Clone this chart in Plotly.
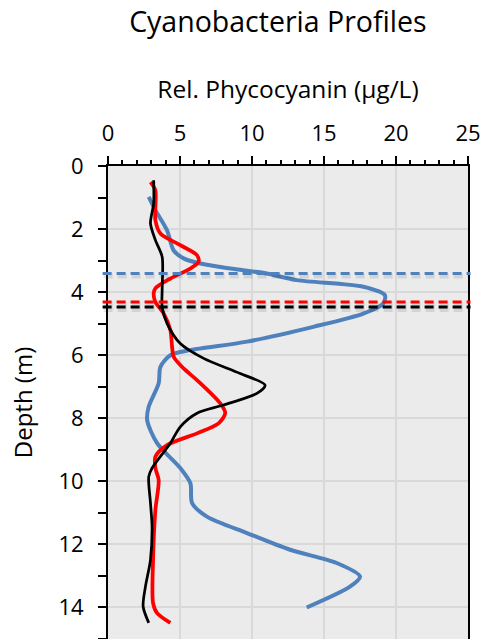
import plotly.graph_objects as go

# Blue profile (Rel. Phycocyanin µg/L vs depth m)
blue_pc = [2.83, 3.29, 4.10, 4.56, 5.25, 6.41, 8.49, 11.03, 13.11, 17.73, 19.23, 19.11, 17.73,
           14.26, 9.65, 5.72, 4.33, 3.64, 3.52, 2.83, 2.72, 3.41, 5.02, 5.72, 5.84, 6.87, 9.65,
           12.65, 15.88, 17.50, 16.80, 13.80]
blue_depth = [0.98, 1.40, 2.04, 2.68, 2.93, 3.09, 3.25, 3.41, 3.62, 3.83, 4.10, 4.36, 4.68,
              5.10, 5.57, 5.84, 6.00, 6.37, 6.89, 7.63, 8.06, 8.79, 9.58, 10.06, 10.69, 11.12, 11.64,
              12.17, 12.59, 13.02, 13.34, 14.00]

red_pc = [2.95, 3.29, 3.29, 3.64, 5.02, 6.18, 6.29, 5.72, 4.33, 3.29, 3.17, 3.29, 3.87, 4.33,
          4.45, 4.56, 5.25, 6.18, 7.80, 8.14, 7.68, 6.18, 4.10, 3.29, 3.29, 3.52, 3.29, 3.13,
          3.13, 3.41, 4.33]
red_depth = [0.51, 0.77, 1.72, 2.14, 2.51, 2.83, 3.04, 3.25, 3.57, 3.88, 4.04, 4.31, 4.68, 5.20,
             5.73, 6.05, 6.42, 6.79, 7.53, 7.84, 8.16, 8.48, 8.85, 9.22, 9.58, 9.96, 10.91, 12.49,
             13.86, 14.18, 14.49]

black_pc = [3.17, 3.17, 2.95, 3.29, 3.76, 3.76, 3.76, 4.10, 5.02, 6.64, 9.18, 10.91, 10.34, 8.02,
            6.18, 5.02, 4.33, 3.06, 2.83, 2.95, 3.06, 2.95, 2.60, 2.44, 2.83]
black_depth = [0.45, 1.19, 1.82, 2.35, 2.88, 3.94, 4.47, 4.99, 5.63, 6.10, 6.58, 6.95, 7.21, 7.58,
               7.84, 8.27, 8.79, 9.58, 9.85, 10.69, 11.43, 12.49, 13.34, 13.97, 14.49]

# Reference depths (dashed lines)
ref_depths = [3.41, 4.31, 4.47]
ref_colors = ["#4F81BD", "#FF0000", "#000000"]

x_ticks = [0, 5, 10, 15, 20, 25]
y_ticks = [0, 2, 4, 6, 8, 10, 12, 14]

FONT = "Open Sans"

fig = go.Figure()
fig.add_trace(go.Scatter(x=blue_pc, y=blue_depth, mode="lines",
                         line=dict(color="#4F81BD", width=4, shape="spline", smoothing=0.8)))
fig.add_trace(go.Scatter(x=red_pc, y=red_depth, mode="lines",
                         line=dict(color="#FF0000", width=3.75, shape="spline", smoothing=0.8)))
fig.add_trace(go.Scatter(x=black_pc, y=black_depth, mode="lines",
                         line=dict(color="#000000", width=2.75, shape="spline", smoothing=0.8)))

# soft shadows under the dashed reference lines
for d in ref_depths:
    fig.add_shape(type="line", xref="paper", yref="y", x0=-0.012, x1=1.007, y0=d + 0.08, y1=d + 0.08,
                  line=dict(color="rgba(0,0,0,0.10)", width=5, dash="9px,5px"), layer="above")
for d, c in zip(ref_depths, ref_colors):
    fig.add_shape(type="line", xref="paper", yref="y", x0=-0.015, x1=1.007, y0=d, y1=d,
                  line=dict(color=c, width=3, dash="9px,5px"), layer="above")

fig.update_layout(
    width=490, height=639,
    margin=dict(l=108, r=22, t=166, b=0),
    paper_bgcolor="white",
    plot_bgcolor="#EBEBEB",
    showlegend=False,
    font=dict(family=FONT, color="#000000"),
    title=dict(text="Cyanobacteria Profiles", x=0.567, xanchor="center", y=0.966, yanchor="middle",
               font=dict(family=FONT, size=28.5, color="#000000")),
)

fig.update_xaxes(
    side="top", range=[0, 25], tickvals=x_ticks, ticktext=[str(v) for v in x_ticks],
    showgrid=True, gridcolor="#D9D9D9", gridwidth=1.5,
    showline=True, linecolor="#000000", linewidth=2, mirror=False,
    ticks="outside", ticklen=8, tickwidth=1.5, tickcolor="#000000",
    minor=dict(dtick=1, tick0=0, ticks="outside", ticklen=4, tickwidth=1.5, tickcolor="#000000", showgrid=False),
    tickfont=dict(size=22, family=FONT), ticklabelstandoff=6,
    title=dict(text="Rel. Phycocyanin (µg/L)", font=dict(size=24.5, family=FONT), standoff=12),
    zeroline=False,
)
fig.update_yaxes(
    range=[15, 0], tickvals=y_ticks, ticktext=[str(v) for v in y_ticks],
    showgrid=True, gridcolor="#D9D9D9", gridwidth=1.5,
    showline=True, linecolor="#000000", linewidth=2, mirror=True,
    ticks="outside", ticklen=8, tickwidth=1.5, tickcolor="#000000",
    minor=dict(dtick=1, tick0=0, ticks="outside", ticklen=8, tickwidth=1.5, tickcolor="#000000", showgrid=False),
    tickfont=dict(size=22, family=FONT), ticklabelstandoff=10,
    title=dict(text="Depth (m)", font=dict(size=24, family=FONT), standoff=19),
    zeroline=False,
)

fig.write_html("out.html", config={"displayModeBar": False},
               post_script="document.body.style.margin='0';document.body.style.overflow='hidden';")
